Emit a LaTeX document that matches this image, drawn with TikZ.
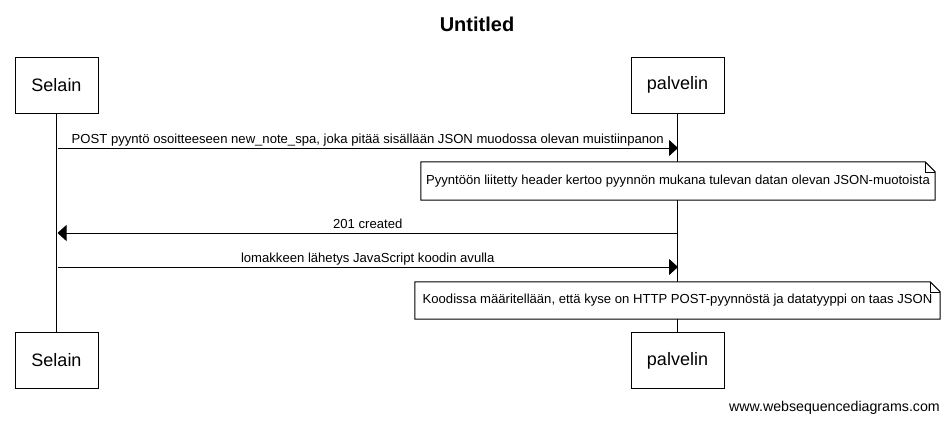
\documentclass[tikz,border=0pt]{standalone}
\usepackage{fontspec}
\setmainfont{Liberation Sans}
\usepackage{tikz}
\usetikzlibrary{arrows.meta,positioning}

\begin{document}
\begin{tikzpicture}[
  x=1pt, y=-1pt,
  every node/.style={font=\fontsize{13.1}{15}\selectfont},
  actor/.style={draw, line width=1pt, minimum height=56pt, inner sep=0pt, font=\fontsize{18}{21}\selectfont},
  msg/.style={line width=1pt, -{Triangle[length=9pt, width=16pt]}},
  msgText/.style={above=4pt, inner sep=0pt, text depth=0pt},
  noteBox/.style={fill=white, minimum height=37pt, inner sep=0pt},
  fold/.style={line width=1pt},
  lifeline/.style={line width=1pt}
]
  \useasboundingbox (0,0) rectangle (949,424);

  \node[font=\bfseries\fontsize{20}{24}\selectfont] (title) at (477,24) {Untitled};

  \node[actor, minimum width=83pt] (selainTop) at (56.5,85) {Selain};
  \node[actor, minimum width=93pt] (palvelinTop) at (677.5,85) {palvelin};
  \node[actor, minimum width=83pt] (selainBot) at (56.5,360.5) {Selain};
  \node[actor, minimum width=93pt] (palvelinBot) at (677.5,360.5) {palvelin};

  \draw[lifeline] (selainTop) -- (selainBot);
  \draw[lifeline] (palvelinTop) -- (palvelinBot);

  \coordinate (s1) at (57.5,148);
  \coordinate (p1) at (678,148);
  \coordinate (s2) at (57.5,233);
  \coordinate (p2) at (678,233);
  \coordinate (s3) at (57.5,267);
  \coordinate (p3) at (678,267);

  \draw[msg] (s1) -- node[msgText] {POST pyyntö osoitteeseen new\_note\_spa, joka pitää sisällään JSON muodossa olevan muistiinpanon} (p1);
  \draw[msg] (p2) -- node[msgText] {201 created} (s2);
  \draw[msg] (s3) -- node[msgText] {lomakkeen lähetys JavaScript koodin avulla} (p3);

  % notes with folded corner
  \node[noteBox, minimum width=514pt, minimum height=38pt] (note1) at (678,181) {Pyyntöön liitetty header kertoo pyynnön mukana tulevan datan olevan JSON-muotoista};
  \draw[fold] (note1.south west) -- (note1.north west) -- ([xshift=-10pt]note1.north east)
    -- ([yshift=-10pt]note1.north east) -- (note1.south east) -- cycle;
  \draw[fold, line width=0.6pt] ([xshift=-10pt]note1.north east) |- ([yshift=-10pt]note1.north east);

  \node[noteBox, minimum width=525pt] (note2) at (677.5,300.5) {Koodissa määritellään, että kyse on HTTP POST-pyynnöstä ja datatyyppi on taas JSON};
  \draw[fold] (note2.south west) -- (note2.north west) -- ([xshift=-10pt]note2.north east)
    -- ([yshift=-10pt]note2.north east) -- (note2.south east) -- cycle;
  \draw[fold, line width=0.6pt] ([xshift=-10pt]note2.north east) |- ([yshift=-10pt]note2.north east);

  \node[anchor=east, inner sep=0pt, font=\fontsize{14.2}{16}\selectfont] (footer) at (940,408) {www.websequencediagrams.com};
\end{tikzpicture}
\end{document}
